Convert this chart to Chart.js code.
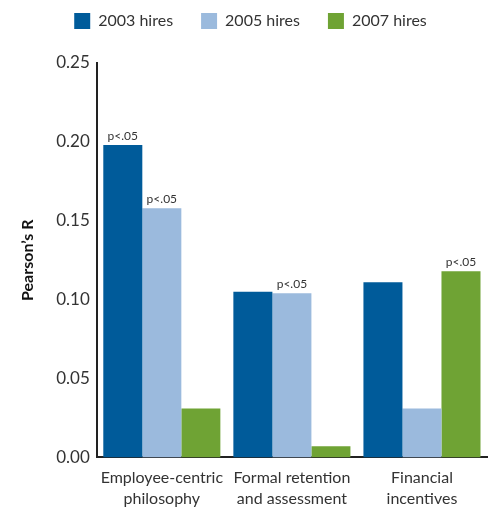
<!DOCTYPE html>
<html lang="en">
<head>
    <meta charset="UTF-8">
    <title>Pearson's R by hiring year</title>
    <script src="https://cdn.jsdelivr.net/npm/chart.js"></script>
    <style>
        html, body { margin: 0; padding: 0; background: #fff; }
        #wrap { width: 492px; height: 507px; }
    </style>
</head>
<body>
    <div id="wrap"><canvas id="barChart" width="492" height="507"></canvas></div>
    <script>
        // data
        var categories = [['Employee-centric', 'philosophy'], ['Formal retention', 'and assessment'], ['Financial', 'incentives']];
        var seriesNames = ['2003 hires', '2005 hires', '2007 hires'];
        var hires2003 = [0.198, 0.105, 0.111];
        var hires2005 = [0.158, 0.104, 0.031];
        var hires2007 = [0.031, 0.007, 0.118];
        // which bars carry a "p<.05" note
        var sig2003 = [true, false, false];
        var sig2005 = [true, true, false];
        var sig2007 = [false, false, true];
        var yTicks = [0, 0.05, 0.10, 0.15, 0.20, 0.25];

        var colors = ['#005b9a', '#9bbadd', '#6fa334'];
        var fontFam = 'Lato, "Open Sans", sans-serif';
        var textCol = '#333333';

        // extra room under the legend
        var legendGap = {
            id: 'legendGap',
            beforeInit: function (chart) {
                var origFit = chart.legend.fit;
                chart.legend.fit = function () {
                    origFit.bind(chart.legend)();
                    this.height += 24;
                };
            }
        };

        // draws p<.05 above flagged bars, using the bar elements' positions
        var sigNotes = {
            id: 'sigNotes',
            afterDatasetsDraw: function (chart) {
                var ctx = chart.ctx;
                var flags = [sig2003, sig2005, sig2007];
                ctx.save();
                ctx.font = '12px ' + fontFam;
                ctx.fillStyle = textCol;
                ctx.textAlign = 'center';
                ctx.textBaseline = 'bottom';
                chart.data.datasets.forEach(function (ds, i) {
                    var meta = chart.getDatasetMeta(i);
                    meta.data.forEach(function (bar, j) {
                        if (flags[i][j]) {
                            ctx.fillText('p<.05', bar.x, bar.y - 3);
                        }
                    });
                });
                ctx.restore();
            }
        };

        var ctxBar = document.getElementById('barChart').getContext('2d');
        new Chart(ctxBar, {
            type: 'bar',
            data: {
                labels: categories,
                datasets: [
                    { label: seriesNames[0], data: hires2003, backgroundColor: colors[0] },
                    { label: seriesNames[1], data: hires2005, backgroundColor: colors[1] },
                    { label: seriesNames[2], data: hires2007, backgroundColor: colors[2] }
                ]
            },
            options: {
                responsive: false,
                animation: false,
                layout: { padding: { left: 14, right: 5, top: -15, bottom: -12 } },
                datasets: { bar: { barPercentage: 1, categoryPercentage: 0.9 } },
                plugins: {
                    legend: {
                        position: 'top',
                        labels: {
                            boxWidth: 16,
                            boxHeight: 16,
                            padding: 28,
                            color: textCol,
                            font: { family: fontFam, size: 16 }
                        }
                    },
                    tooltip: { enabled: false }
                },
                scales: {
                    x: {
                        grid: { display: false, drawTicks: false },
                        border: { display: true, color: '#222', width: 2 },
                        ticks: {
                            color: textCol,
                            padding: 10,
                            maxRotation: 0,
                            font: { family: fontFam, size: 16, lineHeight: 1.3 }
                        }
                    },
                    y: {
                        min: 0,
                        max: 0.25,
                        afterBuildTicks: function (axis) {
                            axis.ticks = yTicks.map(function (v) { return { value: v }; });
                        },
                        grid: { display: false, drawTicks: false },
                        border: { display: true, color: '#222', width: 2 },
                        ticks: {
                            color: textCol,
                            padding: 7,
                            font: { family: fontFam, size: 17 },
                            callback: function (v) { return v.toFixed(2); }
                        },
                        title: {
                            display: true,
                            text: 'Pearson\u2019s R',
                            color: '#111',
                            padding: { bottom: 12 },
                            font: { family: fontFam, size: 16, weight: 'bold' }
                        }
                    }
                }
            },
            plugins: [legendGap, sigNotes]
        });
    </script>
</body>
</html>
